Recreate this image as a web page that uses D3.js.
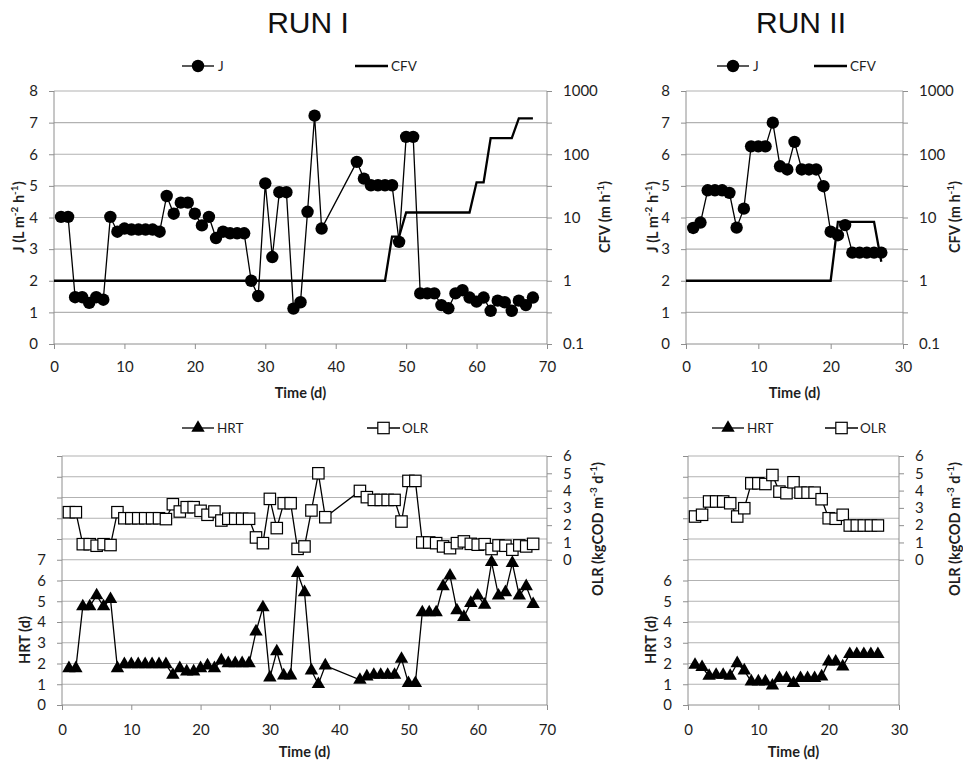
<!DOCTYPE html>
<html>
<head>
<meta charset="utf-8">
<script src="https://d3js.org/d3.v7.min.js"></script>
<style>
  body { margin: 0; background: #fff; }
</style>
</head>
<body>
<div id="chart"></div>
<script>
// ---- data ----
const run1Days = [1,2,3,4,5,6,7,8,9,10,11,12,13,14,15,16,17,18,19,20,21,22,23,24,25,26,27,28,29,30,31,32,33,34,35,36,37,38,
                  43,44,45,46,47,48,49,50,51,52,53,54,55,56,57,58,59,60,61,62,63,64,65,66,67,68];
const run1J = [4.02,4.02,1.48,1.48,1.30,1.48,1.40,4.02,3.55,3.65,3.62,3.62,3.62,3.62,3.55,4.68,4.12,4.47,4.47,4.12,3.75,4.02,3.35,3.55,3.50,3.50,3.50,2.00,1.52,5.08,2.75,4.80,4.80,1.12,1.32,4.18,7.22,3.65,
               5.76,5.23,5.02,5.02,5.02,5.02,3.23,6.55,6.55,1.60,1.60,1.60,1.23,1.13,1.60,1.70,1.47,1.34,1.47,1.05,1.37,1.32,1.05,1.37,1.23,1.47];
const run1HRT = [1.77,1.77,4.75,4.75,5.28,4.75,5.10,1.77,1.96,1.96,1.96,1.96,1.96,1.96,1.96,1.45,1.77,1.61,1.61,1.77,1.90,1.77,2.14,2.01,2.01,2.01,2.01,3.54,4.70,1.32,2.58,1.42,1.42,6.36,5.43,1.66,1.00,1.90,
                 1.21,1.37,1.45,1.45,1.45,1.45,2.22,1.05,1.05,4.46,4.46,4.46,5.72,6.23,4.56,4.24,4.91,5.27,4.83,6.88,5.27,5.43,6.84,5.27,5.72,4.86];
const run1OLR = [2.75,2.75,0.90,0.90,0.81,0.90,0.85,2.75,2.40,2.40,2.40,2.40,2.40,2.40,2.35,3.21,2.79,3.04,3.04,2.83,2.60,2.79,2.27,2.37,2.37,2.37,2.37,1.29,0.96,3.52,1.83,3.27,3.27,0.63,0.77,2.85,5.00,2.46,
                 3.98,3.62,3.46,3.46,3.46,3.46,2.21,4.56,4.56,1.00,1.00,0.96,0.77,0.67,0.96,1.06,0.92,0.87,0.90,0.62,0.83,0.81,0.58,0.83,0.77,0.92];
const run1CfvDays = [0,47,48,49,50,59,60,61,62,65,66,68];
const run1Cfv = [1,1,5,5,12,12,36,36,180,180,370,370];

const run2Days = [1,2,3,4,5,6,7,8,9,10,11,12,13,14,15,16,17,18,19,20,21,22,23,24,25,26,27];
const run2J = [3.67,3.84,4.86,4.86,4.86,4.78,3.68,4.28,6.25,6.25,6.25,7.00,5.62,5.52,6.39,5.52,5.52,5.52,4.99,3.55,3.44,3.76,2.89,2.89,2.89,2.89,2.89];
const run2HRT = [1.93,1.82,1.40,1.45,1.45,1.40,2.01,1.66,1.13,1.13,1.13,0.93,1.29,1.29,1.05,1.29,1.29,1.29,1.37,2.09,2.09,1.85,2.45,2.45,2.45,2.45,2.45];
const run2OLR = [2.50,2.60,3.37,3.37,3.37,3.27,2.50,2.98,4.42,4.42,4.38,4.90,3.94,3.85,4.48,3.88,3.88,3.88,3.50,2.40,2.37,2.60,1.98,1.98,1.98,1.98,1.98];
const run2CfvDays = [0,20,21,26,27];
const run2Cfv = [1,1,8.5,8.5,2];

const cfvTicks = [0.1, 1, 10, 100, 1000];
const olrTicks = [0, 1, 2, 3, 4, 5, 6];

// ---- look ----
const FONT = "Lato, 'Open Sans', sans-serif";
const AXIS = "#8e8e8e", GRID = "#b2b2b2", TXT = "#1e1e1e";

const svg = d3.select("#chart").append("svg")
  .attr("width", 963).attr("height", 765)
  .style("font-family", FONT);

function styleAxis(a) {
  a.attr("font-family", FONT).attr("font-size", 15);
  a.select(".domain").remove();
  a.selectAll(".tick line").attr("stroke", AXIS);
  a.selectAll(".tick text").attr("fill", TXT);
}

// rotated bold title with optional superscripts: parts = [[text, isSup], ...]
function vTitle(g, cx, cy, parts) {
  const t = g.append("text")
    .attr("transform", `translate(${cx},${cy}) rotate(-90)`)
    .attr("text-anchor", "middle").attr("dy", "0.35em")
    .attr("font-weight", "bold").attr("font-size", 14.5).attr("fill", TXT);
  parts.forEach(([s, sup]) => {
    const ts = t.append("tspan").text(s);
    if (sup) ts.attr("baseline-shift", "super").attr("font-size", 10);
  });
}

function triangle(sel) {
  sel.attr("d", d3.symbol(d3.symbolTriangle, 78)).attr("fill", "#000");
}

function frame(g, x, y, yMax) {
  const [x0, x1] = x.range();
  g.append("g").selectAll("line").data(d3.range(1, yMax + 1)).join("line")
    .attr("x1", x0).attr("x2", x1)
    .attr("y1", d => y(d)).attr("y2", d => y(d))
    .attr("stroke", GRID).attr("stroke-width", 1.2);
  g.append("line").attr("x1", x0).attr("x2", x0).attr("y1", y(0)).attr("y2", y(yMax)).attr("stroke", AXIS);
  g.append("line").attr("x1", x1).attr("x2", x1).attr("y1", y(0)).attr("y2", y(yMax)).attr("stroke", AXIS);
  g.append("line").attr("x1", x0).attr("x2", x1).attr("y1", y(0)).attr("y2", y(0)).attr("stroke", AXIS);
}

function fluxPanel(c) {
  const g = svg.append("g");
  const x = d3.scaleLinear().domain([0, c.xMax]).range([c.x0, c.x1]);
  const y = d3.scaleLinear().domain([0, 8]).range([344, 91]);
  const yc = d3.scaleLog().domain([0.1, 1000]).range([344, 91]);
  frame(g, x, y, 8);

  g.append("g").attr("transform", `translate(0,${y(0)})`)
    .call(d3.axisBottom(x).ticks(c.xMax / 10).tickSize(5).tickSizeOuter(0).tickPadding(12))
    .call(styleAxis);
  g.append("g").attr("transform", `translate(${c.x0},0)`)
    .call(d3.axisLeft(y).tickValues(d3.range(0, 9)).tickSize(5).tickSizeOuter(0).tickPadding(11))
    .call(styleAxis);
  g.append("g").attr("transform", `translate(${c.x1},0)`)
    .call(d3.axisRight(yc).tickValues(cfvTicks).tickFormat(d3.format("~g")).tickSize(5).tickSizeOuter(0).tickPadding(11))
    .call(styleAxis);
  // minor ticks between decades
  g.append("g").attr("transform", `translate(${c.x1},0)`)
    .call(d3.axisRight(y).tickValues([1, 3, 5, 7]).tickFormat("").tickSize(5).tickSizeOuter(0))
    .call(styleAxis);

  const cfvPts = c.cfvDays.map((d, i) => [d, c.cfv[i]]);
  g.append("path").datum(cfvPts)
    .attr("d", d3.line().x(d => x(d[0])).y(d => yc(d[1])))
    .attr("fill", "none").attr("stroke", "#000").attr("stroke-width", 2.3);

  const pts = c.days.map((d, i) => [d, c.J[i]]);
  g.append("path").datum(pts)
    .attr("d", d3.line().x(d => x(d[0])).y(d => y(d[1])))
    .attr("fill", "none").attr("stroke", "#000").attr("stroke-width", 1.3);
  g.append("g").selectAll("circle").data(pts).join("circle")
    .attr("cx", d => x(d[0])).attr("cy", d => y(d[1])).attr("r", 6.2).attr("fill", "#000");

  vTitle(g, c.lt, 217, [["J (L m"], ["-2", true], [" h"], ["-1", true], [")"]]);
  vTitle(g, c.rt, 217, [["CFV (m h"], ["-1", true], [")"]]);
  g.append("text").attr("x", (c.x0 + c.x1) / 2).attr("y", 398).attr("text-anchor", "middle")
    .attr("font-weight", "bold").attr("font-size", 14.5).attr("fill", TXT).text("Time (d)");

  // legend
  const ly = 66;
  g.append("line").attr("x1", c.legJ).attr("x2", c.legJ + 32).attr("y1", ly).attr("y2", ly).attr("stroke", "#000").attr("stroke-width", 1.3);
  g.append("circle").attr("cx", c.legJ + 16).attr("cy", ly).attr("r", 6.2).attr("fill", "#000");
  g.append("text").attr("x", c.legJ + 36).attr("y", ly).attr("dy", "0.35em").attr("font-size", 13.5).attr("fill", TXT).text("J");
  g.append("line").attr("x1", c.legC).attr("x2", c.legC + 33).attr("y1", ly).attr("y2", ly).attr("stroke", "#000").attr("stroke-width", 2.3);
  g.append("text").attr("x", c.legC + 36).attr("y", ly).attr("dy", "0.35em").attr("font-size", 13.5).attr("fill", TXT).text("CFV");
}

function hrtPanel(c) {
  const g = svg.append("g");
  const x = d3.scaleLinear().domain([0, c.xMax]).range([c.x0, c.x1]);
  const y = d3.scaleLinear().domain([0, 12]).range([705, 456]);
  const yo = d3.scaleLinear().domain([0, 6]).range([y(7), y(12)]);
  frame(g, x, y, 12);

  g.append("g").attr("transform", `translate(0,${y(0)})`)
    .call(d3.axisBottom(x).ticks(c.xMax / 10).tickSize(5).tickSizeOuter(0).tickPadding(14))
    .call(styleAxis);
  g.append("g").attr("transform", `translate(${c.x0},0)`)
    .call(d3.axisLeft(y).tickValues(d3.range(0, 13)).tickFormat(d => d <= c.hrtMaxLabel ? d : "")
      .tickSize(5).tickSizeOuter(0).tickPadding(11))
    .call(styleAxis);
  g.append("g").attr("transform", `translate(${c.x1},0)`)
    .call(d3.axisRight(yo).tickValues(olrTicks).tickFormat(d3.format("d")).tickSize(5).tickSizeOuter(0).tickPadding(11))
    .call(styleAxis);

  const olrPts = c.days.map((d, i) => [d, c.OLR[i]]);
  g.append("path").datum(olrPts)
    .attr("d", d3.line().x(d => x(d[0])).y(d => yo(d[1])))
    .attr("fill", "none").attr("stroke", "#000").attr("stroke-width", 1.3);
  g.append("g").selectAll("rect").data(olrPts).join("rect")
    .attr("x", d => x(d[0]) - 5.7).attr("y", d => yo(d[1]) - 5.7)
    .attr("width", 11.4).attr("height", 11.4)
    .attr("fill", "#fff").attr("stroke", "#000").attr("stroke-width", 1.2);

  const hrtPts = c.days.map((d, i) => [d, c.HRT[i]]);
  g.append("path").datum(hrtPts)
    .attr("d", d3.line().x(d => x(d[0])).y(d => y(d[1])))
    .attr("fill", "none").attr("stroke", "#000").attr("stroke-width", 1.3);
  g.append("g").selectAll("path").data(hrtPts).join("path")
    .attr("transform", d => `translate(${x(d[0])},${y(d[1])})`)
    .call(triangle);

  vTitle(g, c.lt, 640, [["HRT (d)"]]);
  vTitle(g, c.rt, 529, [["OLR (kgCOD m"], ["-3", true], [" d"], ["-1", true], [")"]]);
  g.append("text").attr("x", (c.x0 + c.x1) / 2).attr("y", 757).attr("text-anchor", "middle")
    .attr("font-weight", "bold").attr("font-size", 14.5).attr("fill", TXT).text("Time (d)");

  const ly = 428;
  g.append("line").attr("x1", c.legH).attr("x2", c.legH + 32).attr("y1", ly).attr("y2", ly).attr("stroke", "#000").attr("stroke-width", 1.3);
  g.append("path").attr("transform", `translate(${c.legH + 16},${ly})`).call(triangle);
  g.append("text").attr("x", c.legH + 35).attr("y", ly).attr("dy", "0.35em").attr("font-size", 13.5).attr("fill", TXT).text("HRT");
  g.append("line").attr("x1", c.legO).attr("x2", c.legO + 33).attr("y1", ly).attr("y2", ly).attr("stroke", "#000").attr("stroke-width", 1.3);
  g.append("rect").attr("x", c.legO + 16.5 - 5.7).attr("y", ly - 5.7).attr("width", 11.4).attr("height", 11.4)
    .attr("fill", "#fff").attr("stroke", "#000").attr("stroke-width", 1.2);
  g.append("text").attr("x", c.legO + 35).attr("y", ly).attr("dy", "0.35em").attr("font-size", 13.5).attr("fill", TXT).text("OLR");
}

// titles
svg.append("text").attr("x", 308).attr("y", 33).attr("text-anchor", "middle")
  .attr("font-family", "'Liberation Sans', Arial, sans-serif").attr("font-size", 30).attr("fill", "#111").text("RUN I");
svg.append("text").attr("x", 801).attr("y", 33).attr("text-anchor", "middle")
  .attr("font-family", "'Liberation Sans', Arial, sans-serif").attr("font-size", 30).attr("fill", "#111").text("RUN II");

fluxPanel({ x0: 54, x1: 547, xMax: 70, days: run1Days, J: run1J, cfvDays: run1CfvDays, cfv: run1Cfv,
            lt: 19, rt: 605, legJ: 182, legC: 355 });
fluxPanel({ x0: 686, x1: 903, xMax: 30, days: run2Days, J: run2J, cfvDays: run2CfvDays, cfv: run2Cfv,
            lt: 653, rt: 955, legJ: 717, legC: 814 });
hrtPanel({ x0: 62, x1: 547, xMax: 70, days: run1Days, HRT: run1HRT, OLR: run1OLR, hrtMaxLabel: 7,
           lt: 25, rt: 598, legH: 182, legO: 367 });
hrtPanel({ x0: 688, x1: 899, xMax: 30, days: run2Days, HRT: run2HRT, OLR: run2OLR, hrtMaxLabel: 6,
           lt: 651, rt: 955, legH: 712, legO: 825 });
</script>
</body>
</html>
